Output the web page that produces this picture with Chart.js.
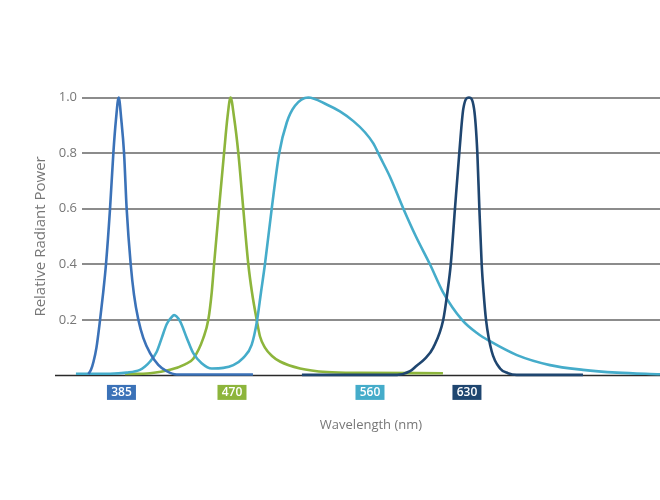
<!DOCTYPE html>
<html>
<head>
<meta charset="utf-8">
<script src="https://cdn.jsdelivr.net/npm/chart.js@4/dist/chart.umd.min.js"></script>
<style>
  html, body { margin: 0; padding: 0; background: #fff; }
  #wrap { width: 660px; height: 500px; }
</style>
</head>
<body>
<div id="wrap"><canvas id="chart"></canvas></div>
<script>
// spectrum curves, x = wavelength position, y = relative radiant power
const blueX = [354.4, 356.2, 358.0, 360.0, 362.5, 364.7, 366.6, 369.4, 371.7, 373.5, 375.4, 377.2, 379.1, 380.9, 383.7, 386.0, 389.0, 392.4, 397.1, 402.8, 408.6, 415.5, 468.3];
const blueY = [0.005, 0.02, 0.05, 0.1, 0.2, 0.3, 0.4, 0.6, 0.8, 0.92, 1.0, 0.92, 0.8, 0.6, 0.4, 0.29, 0.2, 0.135, 0.08, 0.038, 0.015, 0.003, 0.003];

const cyanX = [345.8, 369.4, 380.9, 390.1, 393.6, 397.1, 401.7, 405.2, 408.6, 412.1, 413.7, 417.8, 422.5, 427.0, 432.8, 439.8, 447.8, 454.7, 461.6, 467.4, 470.9, 473.9, 476.6, 481.3, 486.5, 491.7, 497.4, 506.6, 519.3, 528.5, 537.8, 545.8, 551.6, 556.2, 563.1, 572.4, 581.1, 590.8, 599.8, 613.0, 624.0, 632.3, 651.0, 673.9, 696.7, 720.2, 750];
const cyanY = [0.006, 0.006, 0.01, 0.02, 0.032, 0.05, 0.085, 0.135, 0.184, 0.21, 0.217, 0.195, 0.135, 0.08, 0.044, 0.025, 0.027, 0.037, 0.063, 0.11, 0.19, 0.3, 0.4, 0.6, 0.8, 0.91, 0.97, 1.0, 0.975, 0.95, 0.915, 0.875, 0.835, 0.787, 0.715, 0.6, 0.5, 0.4, 0.3, 0.2, 0.15, 0.123, 0.073, 0.037, 0.02, 0.01, 0.004];

const greenX = [379.8, 397.1, 410.9, 421.3, 427.0, 434.0, 437.4, 439.8, 441.4, 444.8, 448.3, 450.7, 452.8, 455.2, 458.2, 461.6, 465.1, 467.6, 470.9, 473.2, 476.6, 481.5, 487.0, 500.9, 519.5, 542.4, 599.8];
const greenY = [0.005, 0.008, 0.02, 0.04, 0.06, 0.135, 0.2, 0.3, 0.4, 0.6, 0.8, 0.93, 1.0, 0.93, 0.8, 0.6, 0.4, 0.3, 0.2, 0.14, 0.1, 0.07, 0.05, 0.025, 0.012, 0.009, 0.008];

const navyX = [502.2, 568.0, 577.0, 581.6, 587.4, 593.1, 600.0, 602.9, 605.2, 608.1, 611.1, 613.9, 617.8, 621.3, 623.6, 625.0, 626.6, 627.9, 629.6, 633.5, 639.3, 644.8, 650.8, 696.7];
const navyY = [0.002, 0.002, 0.015, 0.035, 0.06, 0.1, 0.2, 0.3, 0.4, 0.6, 0.8, 0.96, 1.0, 0.96, 0.8, 0.6, 0.4, 0.3, 0.2, 0.087, 0.025, 0.008, 0.002, 0.002];

// colored wavelength tags under the axis
const tagText = ['385', '470', '560', '630'];
const tagPos = [377.3, 453.8, 549.3, 616.4];
const tagColor = ['#3b72b8', '#8db53c', '#45acca', '#1f4670'];

function pts(xs, ys) {
    return xs.map((x, i) => ({ x: x, y: ys[i] }));
}

function lineSet(label, xs, ys, color) {
    return {
        label: label,
        data: pts(xs, ys),
        borderColor: color,
        borderWidth: 2.6,
        pointRadius: 0,
        fill: false,
        cubicInterpolationMode: 'monotone',
        clip: false
    };
}

// dark baseline that starts a bit left of the plot
const baseline = {
    id: 'baseline',
    beforeDatasetsDraw(chart) {
        const { ctx, chartArea } = chart;
        const y = chart.scales.y.getPixelForValue(0);
        ctx.save();
        ctx.strokeStyle = '#2a2a2a';
        ctx.lineWidth = 1.5;
        ctx.beginPath();
        ctx.moveTo(chartArea.left - 27, y);
        ctx.lineTo(chartArea.right, y);
        ctx.stroke();
        ctx.restore();
    }
};

const tags = {
    id: 'tags',
    afterDatasetsDraw(chart) {
        const { ctx, chartArea } = chart;
        const xs = chart.scales.x;
        ctx.save();
        ctx.font = '600 12px "Open Sans", sans-serif';
        ctx.textAlign = 'center';
        ctx.textBaseline = 'middle';
        for (let i = 0; i < tagText.length; i++) {
            const cx = xs.getPixelForValue(tagPos[i]);
            const top = chartArea.bottom + 9.5;
            ctx.fillStyle = tagColor[i];
            ctx.fillRect(cx - 14.5, top, 29, 15);
            ctx.fillStyle = '#ffffff';
            ctx.fillText(tagText[i], cx, top + 8);
        }
        ctx.restore();
    }
};

const ctx = document.getElementById('chart').getContext('2d');
new Chart(ctx, {
    type: 'line',
    data: {
        datasets: [
            lineSet('630', navyX, navyY, '#1f4670'),
            lineSet('385', blueX, blueY, '#3b72b8'),
            lineSet('560', cyanX, cyanY, '#45acca'),
            lineSet('470', greenX, greenY, '#8db53c')
        ]
    },
    options: {
        responsive: true,
        maintainAspectRatio: false,
        animation: false,
        layout: { padding: { top: 97.5, right: 0, bottom: 67, left: 0 } },
        plugins: {
            legend: { display: false },
            tooltip: { enabled: false }
        },
        scales: {
            x: {
                type: 'linear',
                min: 350,
                max: 750,
                ticks: { display: false },
                grid: { display: false },
                border: { display: false },
                title: {
                    display: true,
                    text: 'Wavelength (nm)',
                    color: '#777',
                    font: { family: '"Open Sans", sans-serif', size: 13 },
                    padding: { top: 34, bottom: 0 }
                }
            },
            y: {
                min: 0,
                max: 1,
                ticks: {
                    stepSize: 0.2,
                    color: '#777',
                    font: { family: '"Open Sans", sans-serif', size: 13 },
                    padding: 5,
                    callback: v => v === 0 ? '' : v.toFixed(1)
                },
                grid: {
                    color: c => c.tick && c.tick.value === 0 ? 'rgba(0,0,0,0)' : '#8c8c8c',
                    lineWidth: 2,
                    drawTicks: false
                },
                border: { display: false },
                title: {
                    display: true,
                    text: 'Relative Radiant Power',
                    color: '#777',
                    font: { family: '"Open Sans", sans-serif', size: 15 },
                    padding: { top: 32, bottom: 0 }
                },
                afterFit(scale) { scale.width = 82; }
            }
        }
    },
    plugins: [baseline, tags]
});
</script>
</body>
</html>
